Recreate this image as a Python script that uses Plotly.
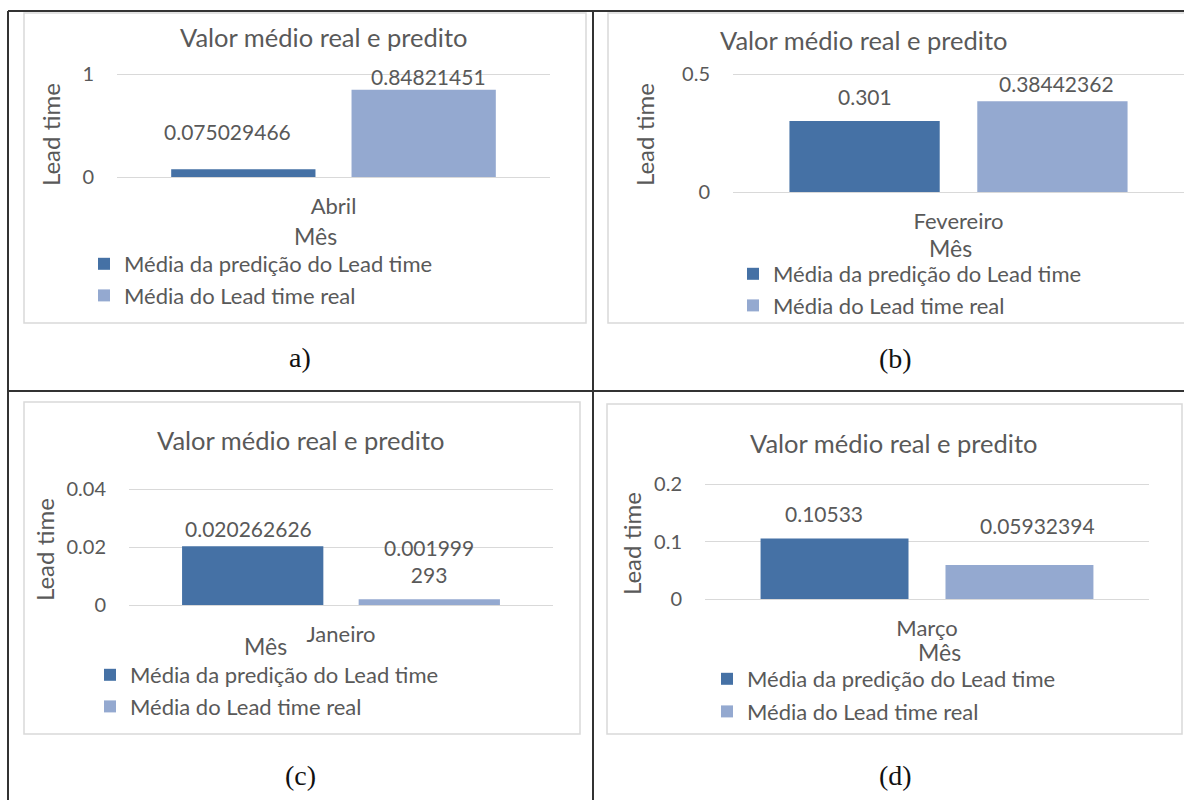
import plotly.graph_objects as go

W, H = 1184, 800

# ---- data -------------------------------------------------------------
months = ["Abril", "Fevereiro", "Janeiro", "Março"]
captions = ["a)", "(b)", "(c)", "(d)"]
pred_mean = [0.075029466, 0.301, 0.020262626, 0.10533]
real_mean = [0.84821451, 0.38442362, 0.001999293, 0.05932394]
y_max = [1, 0.5, 0.04, 0.2]
y_dtick = [1, 0.5, 0.02, 0.1]
series_names = ["Média da predição do Lead time", "Média do Lead time real"]
chart_title = "Valor médio real e predito"
x_title = "Mês"
y_title = "Lead time"

# ---- styling ------------------------------------------------------------
FONT = "Lato"
GREY = "#595959"
COLORS = ["#4571A5", "#94A9D0"]
BARGAP, GROUPGAP = 0.167, 0.2
EDGE_PAD = 2  # px of headroom so the end gridlines are not clipped

# pixel geometry of each panel (left, top, right, bottom)
plot_box = [(117, 74, 550, 177), (733, 74, 1184, 192),
            (129, 489, 553, 605), (705, 484, 1149, 599)]
frame_box = [(24, 13, 586, 323), (608, 13, 1196, 323),
             (24, 402, 580, 734), (607, 404, 1182, 734)]
title_pos = [(324, 37), (864, 40), (301, 440), (894, 443)]
xtitle_pos = [(315, 236), (950, 248), (265, 646), (939, 652)]
ytitle_pos = [(51, 135), (645, 135), (44, 550), (631, 544)]
legend_pos = [(104, 265), (753, 275), (110, 676), (727, 680)]
legend_gap = [0, 0, 0, 1]
caption_pos = [(300, 357), (895, 358), (300, 775), (895, 775)]
label_shift = [[(-16, 38), (5, 13)], [(0, 24), (4, 18)],
               [(-4, 18), (0, 38)], [(-11, 25), (18, 39)]]
label_wrap = [[0, 0], [0, 0], [0, 8], [0, 0]]


def px(x):
    return x / W


def py(y):
    return 1 - y / H


def fmt(v, wrap):
    s = repr(v)
    if wrap and len(s) > wrap:
        s = s[:wrap] + "<br>" + s[wrap:]
    return s


def paper_text(pos, text, size, **extra):
    x, y = pos
    font = dict(family=FONT, size=size, color=GREY)
    font.update(extra.pop("font", {}))
    return dict(x=px(x), y=py(y), xref="paper", yref="paper", text=text,
                showarrow=False, xanchor="center", yanchor="middle",
                font=font, **extra)


fig = go.Figure()
annotations = []
shapes = []

for i in range(4):
    sfx = "" if i == 0 else str(i + 1)
    xa, ya = "x" + sfx, "y" + sfx
    leg = "legend" + sfx
    values = [pred_mean[i], real_mean[i]]
    for k in range(2):
        fig.add_trace(go.Bar(
            x=[months[i]], y=[values[k]], name=series_names[k],
            marker=dict(color=COLORS[k], line=dict(width=0)),
            xaxis=xa, yaxis=ya, legend=leg, legendgroup=f"g{i}{k}",
            hoverinfo="skip",
        ))

    l, t, r, b = plot_box[i]
    pad = y_max[i] * EDGE_PAD / (b - t)
    fig.layout["xaxis" + sfx] = dict(
        domain=[px(l), px(r)], anchor=ya, type="category",
        range=[-0.5, 0.5], showgrid=False, showline=False, zeroline=False,
        ticks="", ticklabelstandoff=12,
        tickfont=dict(family=FONT, size=22, color=GREY), fixedrange=True,
    )
    fig.layout["yaxis" + sfx] = dict(
        domain=[py(b + EDGE_PAD), py(t - EDGE_PAD)], anchor=xa,
        range=[-pad, y_max[i] + pad],
        dtick=y_dtick[i], tick0=0, showgrid=True, gridcolor="#D9D9D9",
        gridwidth=1.3, zeroline=False, showline=False, ticks="",
        ticklabelstandoff=20 + EDGE_PAD,
        tickfont=dict(family=FONT, size=20, color=GREY),
        fixedrange=True,
    )

    # legend of this panel
    sx, sy = legend_pos[i]
    fig.layout[leg] = dict(
        x=px(sx - 20), y=py(sy - 22), xanchor="left", yanchor="top",
        bgcolor="rgba(0,0,0,0)", traceorder="grouped",
        tracegroupgap=legend_gap[i], itemclick=False,
        font=dict(family=FONT, size=22, color=GREY),
    )

    # value labels above the bars
    slot = (1 - BARGAP) / 2
    for k, v in enumerate(values):
        dx, dy = label_shift[i][k]
        annotations.append(dict(
            x=(k - 0.5) * slot, y=v, xref=xa, yref=ya,
            text=fmt(v, label_wrap[i][k]), showarrow=False,
            xanchor="center", yanchor="middle", xshift=dx, yshift=dy,
            font=dict(family=FONT, size=21, color=GREY),
        ))

    annotations.append(paper_text(title_pos[i], chart_title, 25.5))
    annotations.append(paper_text(xtitle_pos[i], x_title, 23))
    annotations.append(paper_text(ytitle_pos[i], y_title, 24, textangle=-90))
    annotations.append(paper_text(
        caption_pos[i], captions[i], 28,
        font=dict(family="Liberation Serif", color="#111111")))

    fl, ft, fr, fb = frame_box[i]
    shapes.append(dict(type="rect", xref="paper", yref="paper",
                       x0=px(fl), x1=px(fr), y0=py(fb), y1=py(ft),
                       line=dict(color="#D9D9D9", width=1.5), layer="below"))

# table rules around the four panels
rule = dict(color="#333333", width=2)
for x0, y0, x1, y1 in [(8, 11, 1184, 11), (8, 391, 1184, 391),
                       (8, 11, 8, 800), (593, 11, 593, 800)]:
    shapes.append(dict(type="line", xref="paper", yref="paper",
                       x0=px(x0), y0=py(y0), x1=px(x1), y1=py(y1), line=rule))

fig.update_layout(
    width=W, height=H,
    margin=dict(l=0, r=0, t=0, b=0, pad=0, autoexpand=False),
    paper_bgcolor="white", plot_bgcolor="white",
    barmode="group", bargap=BARGAP, bargroupgap=GROUPGAP,
    annotations=annotations, shapes=shapes,
    font=dict(family=FONT, color=GREY),
)

fig.write_html("out.html", config={"displayModeBar": False})
